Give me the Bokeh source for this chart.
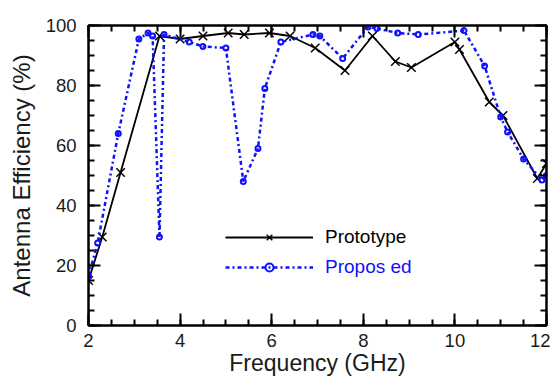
from bokeh.plotting import figure
from bokeh.models import (LinearAxis, SingleIntervalTicker, Range1d, Legend, LegendItem,
                          ColumnDataSource, CustomJSTickFormatter)
from bokeh.embed import file_html
from bokeh.resources import INLINE

# ---- data ----
proto_x = [2.0, 2.3, 2.7, 3.55, 4.0, 4.5, 5.05, 5.4, 5.95, 6.4, 6.95, 7.6, 8.2, 8.7, 9.05,
           10.0, 10.1, 10.75, 11.05, 11.8, 12.0]
proto_y = [15, 29.5, 51, 96.5, 95.5, 96.5, 97.5, 97, 97.5, 96.5, 92.5, 85, 96.5, 88, 86,
           94.5, 92, 74.5, 70, 49, 54]

prop_x = [2.0, 2.2, 2.65, 3.1, 3.3, 3.4, 3.55, 3.65, 4.2, 4.5, 5.0, 5.38, 5.7, 5.85, 6.2,
          6.9, 7.05, 7.55, 8.1, 8.3, 8.75, 9.2, 10.2, 10.65, 11.0, 11.15, 11.5, 11.9, 12.0]
prop_y = [16.5, 27.5, 64, 95.5, 97.5, 96.5, 29.5, 97, 94.5, 93, 92.5, 48, 59, 79, 94.5,
          97, 96.5, 89, 99.5, 99, 97.5, 97, 98.3, 86.5, 69.5, 64.5, 55.5, 48.5, 50]

series_labels = ["Prototype", "Propos ed"]
x_label = "Frequency (GHz)"
y_label = "Antenna Efficiency (%)"

FONT = "Liberation Sans"
TXT = "#1a1a1a"
BLUE = "#1010ff"

p = figure(width=550, height=380, output_backend="svg", toolbar_location=None,
           x_range=Range1d(2, 12), y_range=Range1d(0, 100),
           x_axis_location=None, y_axis_location=None)
p.min_border_left = 88
p.min_border_right = 4
p.min_border_top = 25
p.min_border_bottom = 55
p.xgrid.visible = False
p.ygrid.visible = False
p.outline_line_color = "black"
p.outline_line_width = 2
p.background_fill_color = "white"
p.border_fill_color = "white"

def make_axis(cls_kind, labels):
    if cls_kind == "x":
        ax = LinearAxis(ticker=SingleIntervalTicker(interval=2, num_minor_ticks=4))
    else:
        ax = LinearAxis(ticker=SingleIntervalTicker(interval=20, num_minor_ticks=4))
    ax.axis_line_width = 2
    ax.axis_line_color = "black"
    ax.major_tick_in = 12
    ax.major_tick_out = 0
    ax.minor_tick_in = 6
    ax.minor_tick_out = 0
    ax.major_tick_line_width = 2
    ax.minor_tick_line_width = 2
    ax.major_tick_line_color = "black"
    ax.minor_tick_line_color = "black"
    if labels:
        ax.major_label_text_font = FONT
        ax.major_label_text_font_size = "18.5px"
        ax.major_label_text_color = TXT
        ax.axis_label_text_font = FONT
        ax.axis_label_text_font_style = "normal"
        ax.axis_label_text_color = TXT
    else:
        ax.formatter = CustomJSTickFormatter(code="return ''")
        ax.major_label_standoff = 0
    return ax

xb = make_axis("x", True)
xb.axis_label = x_label
xb.axis_label_text_font_size = "23px"
xb.major_label_standoff = 8
xb.axis_label_standoff = 0
yl = make_axis("y", True)
yl.axis_label = y_label
yl.axis_label_text_font_size = "24px"
yl.major_label_standoff = 12
yl.axis_label_standoff = 8
p.add_layout(xb, "below")
p.add_layout(yl, "left")
p.add_layout(make_axis("x", False), "above")
p.add_layout(make_axis("y", False), "right")

src_proto = ColumnDataSource(dict(x=proto_x, y=proto_y))
src_prop = ColumnDataSource(dict(x=prop_x, y=prop_y))

l1 = p.line("x", "y", source=src_proto, line_color="black", line_width=1.8)
s1 = p.scatter("x", "y", source=src_proto, marker="x", size=12, line_color="black",
               line_width=1.5)
l2 = p.line("x", "y", source=src_prop, line_color=BLUE, line_width=2.5, line_dash="4 3 2 3")
s2 = p.scatter("x", "y", source=src_prop, marker="circle", size=5, line_color=BLUE,
               line_width=2, fill_color=None)

def make_legend(item, loc, color):
    lg = Legend(items=[item], location=loc, glyph_width=88, glyph_height=20,
                label_height=20, label_standoff=12, padding=0, margin=0,
                border_line_color=None, background_fill_alpha=0,
                label_text_font=FONT, label_text_font_size="19px",
                label_text_color=color)
    return lg

p.add_layout(make_legend(LegendItem(label=series_labels[0], renderers=[l1, s1]), (137, 77), "black"))
p.add_layout(make_legend(LegendItem(label=series_labels[1], renderers=[l2, s2]), (137, 47), BLUE))

open("out.html", "w").write(file_html(p, INLINE))
